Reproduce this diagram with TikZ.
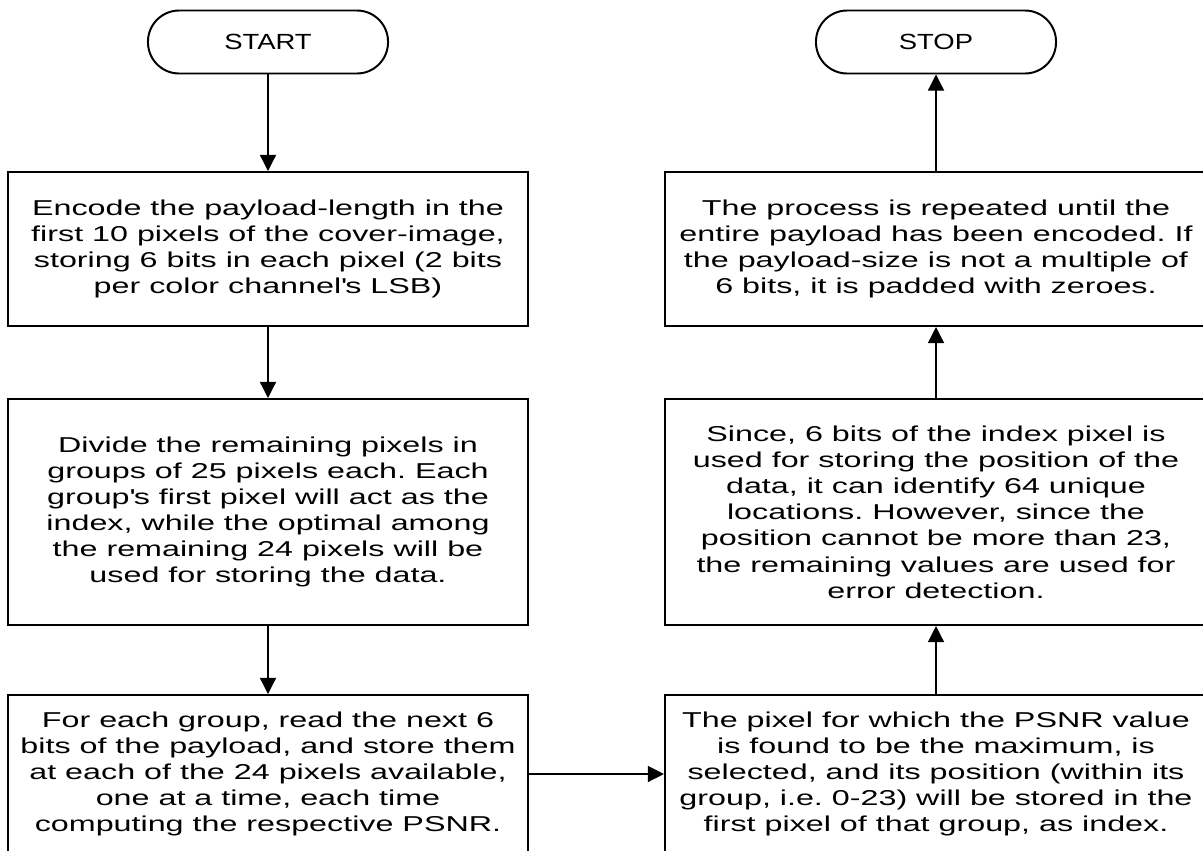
\documentclass[tikz,border=0pt]{standalone}
\usepackage{fontspec}
\setmainfont{Liberation Sans}[FakeStretch=1.5]
\newfontfamily\terminalfont{Liberation Sans}[FakeStretch=1.25]
\usepackage{tikz}
\usetikzlibrary{arrows.meta}
\frenchspacing
\tikzset{
    flow-terminal/.style = {draw, line width=1.4pt, rectangle, rounded corners=0.78cm, minimum width=6cm, minimum height=1.575cm, inner sep=0pt, font=\terminalfont\fontsize{15.6}{18.5}\selectfont},
    flow-box/.style = {draw, line width=1.4pt, rectangle, align=center, inner sep=0pt, minimum width=12.975cm, font=\fontsize{15.3}{18.6}\selectfont},
    flow-box-wide/.style = {flow-box, minimum width=13.55cm},
    flow-arrow/.style = {line width=0.9pt, -{Triangle[length=11.5pt, width=11.5pt]}},
}

\begin{document}
\begin{tikzpicture}[x=0.025cm, y=-0.025cm]
\useasboundingbox (0,0) rectangle (1203,850);
\clip (0,0) rectangle (1203,850);

% left column, going down
\node [flow-terminal] (start) at (268,42) {START};
\node [flow-box, minimum height=3.85cm] (encode) at (268,249) {Encode the payload-length in the\\
    first 10 pixels of the cover-image,\\
    storing 6 bits in each pixel (2 bits\\
    per color channel\textquotesingle s LSB)};
\node [flow-box, minimum height=5.65cm] (divide) at (268,512) {Divide the remaining pixels in\\
    groups of 25 pixels each. Each\\
    group\textquotesingle s first pixel will act as the\\
    index, while the optimal among\\
    the remaining 24 pixels will be\\
    used for storing the data.};
\node [flow-box, minimum height=3.95cm] (group) at (268,774) {For each group, read the next 6\\
    bits of the payload, and store them\\
    at each of the 24 pixels available,\\
    one at a time, each time\\
    computing the respective PSNR.};

% right column, going up
\node [flow-box-wide, minimum height=3.95cm] (select) at (936,774) {The pixel for which the PSNR value\\
    is found to be the maximum, is\\
    selected, and its position (within its\\
    group, i.e. 0-23) will be stored in the\\
    first pixel of that group, as index.};
\node [flow-box-wide, minimum height=5.65cm] (position) at (936,512) {Since, 6 bits of the index pixel is\\
    used for storing the position of the\\
    data, it can identify 64 unique\\
    locations. However, since the\\
    position cannot be more than 23,\\
    the remaining values are used for\\
    error detection.};
\node [flow-box-wide, minimum height=3.85cm] (repeat) at (936,249) {The process is repeated until the\\
    entire payload has been encoded. If\\
    the payload-size is not a multiple of\\
    6 bits, it is padded with zeroes.};
\node [flow-terminal] (stop) at (936,42) {STOP};

\draw [flow-arrow] (start) -- (encode);
\draw [flow-arrow] (encode) -- (divide);
\draw [flow-arrow] (divide) -- (group);
\draw [flow-arrow] (group) -- (select);
\draw [flow-arrow] (select) -- (position);
\draw [flow-arrow] (position) -- (repeat);
\draw [flow-arrow] (repeat) -- (stop);
\end{tikzpicture}
\end{document}
